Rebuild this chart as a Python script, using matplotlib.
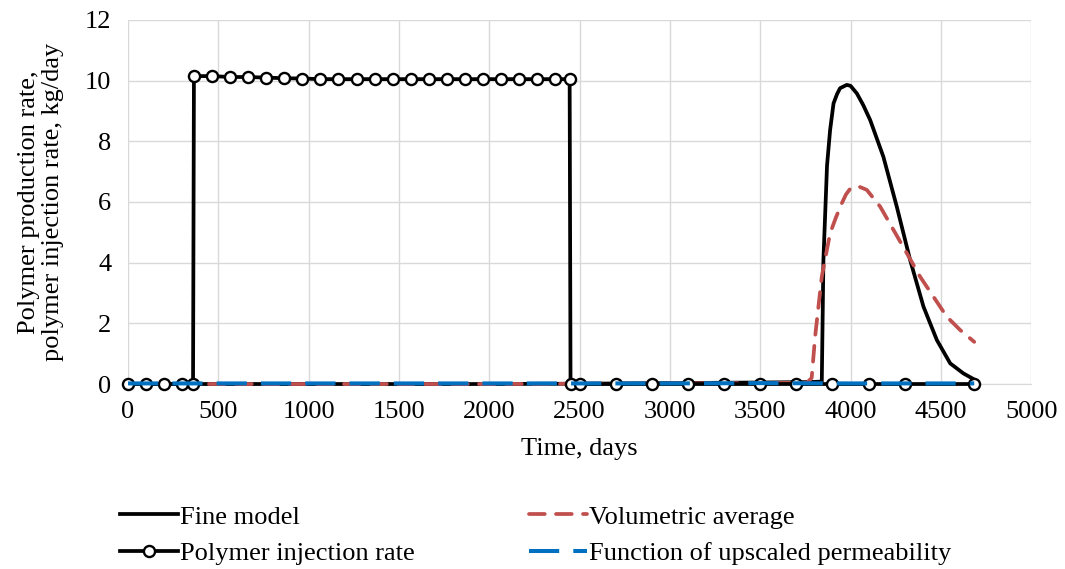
import matplotlib.pyplot as plt

plt.rcParams['font.family'] = ['Liberation Serif', 'DejaVu Serif']

# Fine model production rate
fine_t = [0, 500, 1000, 1500, 2000, 2500, 3000, 3500, 3700, 3800, 3841, 3850, 3870, 3887,
          3906, 3925, 3942, 3979, 4000, 4035, 4070, 4109, 4182, 4256, 4330, 4404, 4478,
          4552, 4625, 4685]
fine_q = [0, 0, 0, 0, 0, 0.01, 0.03, 0.05, 0.06, 0.07, 0.08, 4.09, 7.2, 8.37,
          9.25, 9.55, 9.75, 9.86, 9.83, 9.58, 9.2, 8.70, 7.49, 5.85, 4.09, 2.55, 1.45,
          0.68, 0.35, 0.15]

# Volumetric average upscaling
vol_t = [0, 500, 1000, 1500, 2000, 2500, 3000, 3500, 3700, 3760, 3785, 3804, 3841, 3887,
         3920, 3952, 3975, 4000, 4026, 4050, 4090, 4164, 4238, 4312, 4385, 4459, 4533,
         4607, 4685]
vol_q = [0, 0, 0, 0, 0, 0.01, 0.02, 0.03, 0.04, 0.05, 0.2, 1.56, 3.54, 4.97,
         5.5, 5.96, 6.25, 6.45, 6.51, 6.5, 6.40, 5.85, 5.08, 4.31, 3.54, 2.88, 2.22,
         1.78, 1.39]

# Polymer injection rate (marked points)
inj_t = [0, 100, 200, 300, 360, 365, 465, 565, 665, 765, 865, 965, 1065, 1165, 1265,
         1365, 1465, 1565, 1665, 1765, 1865, 1965, 2065, 2165, 2265, 2365, 2445,
         2450, 2500, 2700, 2900, 3100, 3300, 3500, 3700, 3900, 4100, 4300, 4685]
inj_q = [0, 0, 0, 0, 0, 10.15, 10.15, 10.12, 10.12, 10.1, 10.08, 10.07, 10.05, 10.05, 10.05,
         10.05, 10.05, 10.05, 10.05, 10.05, 10.05, 10.05, 10.05, 10.05, 10.05, 10.05, 10.05,
         0, 0, 0, 0, 0, 0, 0, 0, 0, 0, 0, 0]

# Function of upscaled permeability
perm_t = [0, 500, 1000, 1500, 2000, 2500, 3000, 3500, 4000, 4500, 4685]
perm_q = [0.02, 0.02, 0.02, 0.02, 0.02, 0.02, 0.02, 0.03, 0.02, 0.02, 0.02]

fs = 19

fig = plt.figure(figsize=(10.65, 5.69), dpi=100)
ax = fig.add_axes([0.1202, 0.3251, 0.848, 0.6398])

ax.plot(fine_t, fine_q, color='black', lw=2.7, label='Fine model', zorder=3, clip_on=False)
ax.plot(vol_t, vol_q, color='#C0504D', lw=2.7, dashes=(4.2, 3), dash_capstyle='round',
        label='Volumetric average', zorder=4, clip_on=False)
ax.plot(inj_t, inj_q, color='black', lw=2.7, marker='o', markersize=8,
        markerfacecolor='white', markeredgecolor='black', markeredgewidth=1.7,
        label='Polymer injection rate', zorder=5, clip_on=False)
ax.plot(perm_t, perm_q, color='#0070C0', lw=2.9, dashes=(7.5, 3.5),
        label='Function of upscaled permeability', zorder=6, clip_on=False)

ax.set_xlim(0, 5000)
ax.set_ylim(0, 12)
ax.set_xticks(range(0, 5001, 500))
ax.set_yticks(range(0, 13, 2))
ax.grid(True, color='#D9D9D9', lw=1)
ax.set_axisbelow(True)
for s in ['top', 'right', 'left']:
    ax.spines[s].set_visible(False)
ax.spines['bottom'].set_color('#D9D9D9')
ax.tick_params(length=0, labelsize=fs, pad=12)

ax.set_xlabel('Time, days', fontsize=fs, labelpad=11)
ax.set_ylabel('Polymer production rate,\npolymer injection rate, kg/day', fontsize=fs,
              linespacing=1.1, labelpad=15)

h, l = ax.get_legend_handles_labels()
order = [0, 2, 1, 3]
fig.legend([h[i] for i in order], [l[i] for i in order], ncol=2, loc='upper left',
           bbox_to_anchor=(0.1, 1 - 492 / 569), frameon=False, fontsize=fs,
           handlelength=2.2, handletextpad=0.1, columnspacing=4.3, labelspacing=0.5,
           borderpad=0)

fig.savefig('out.png', dpi=100)
